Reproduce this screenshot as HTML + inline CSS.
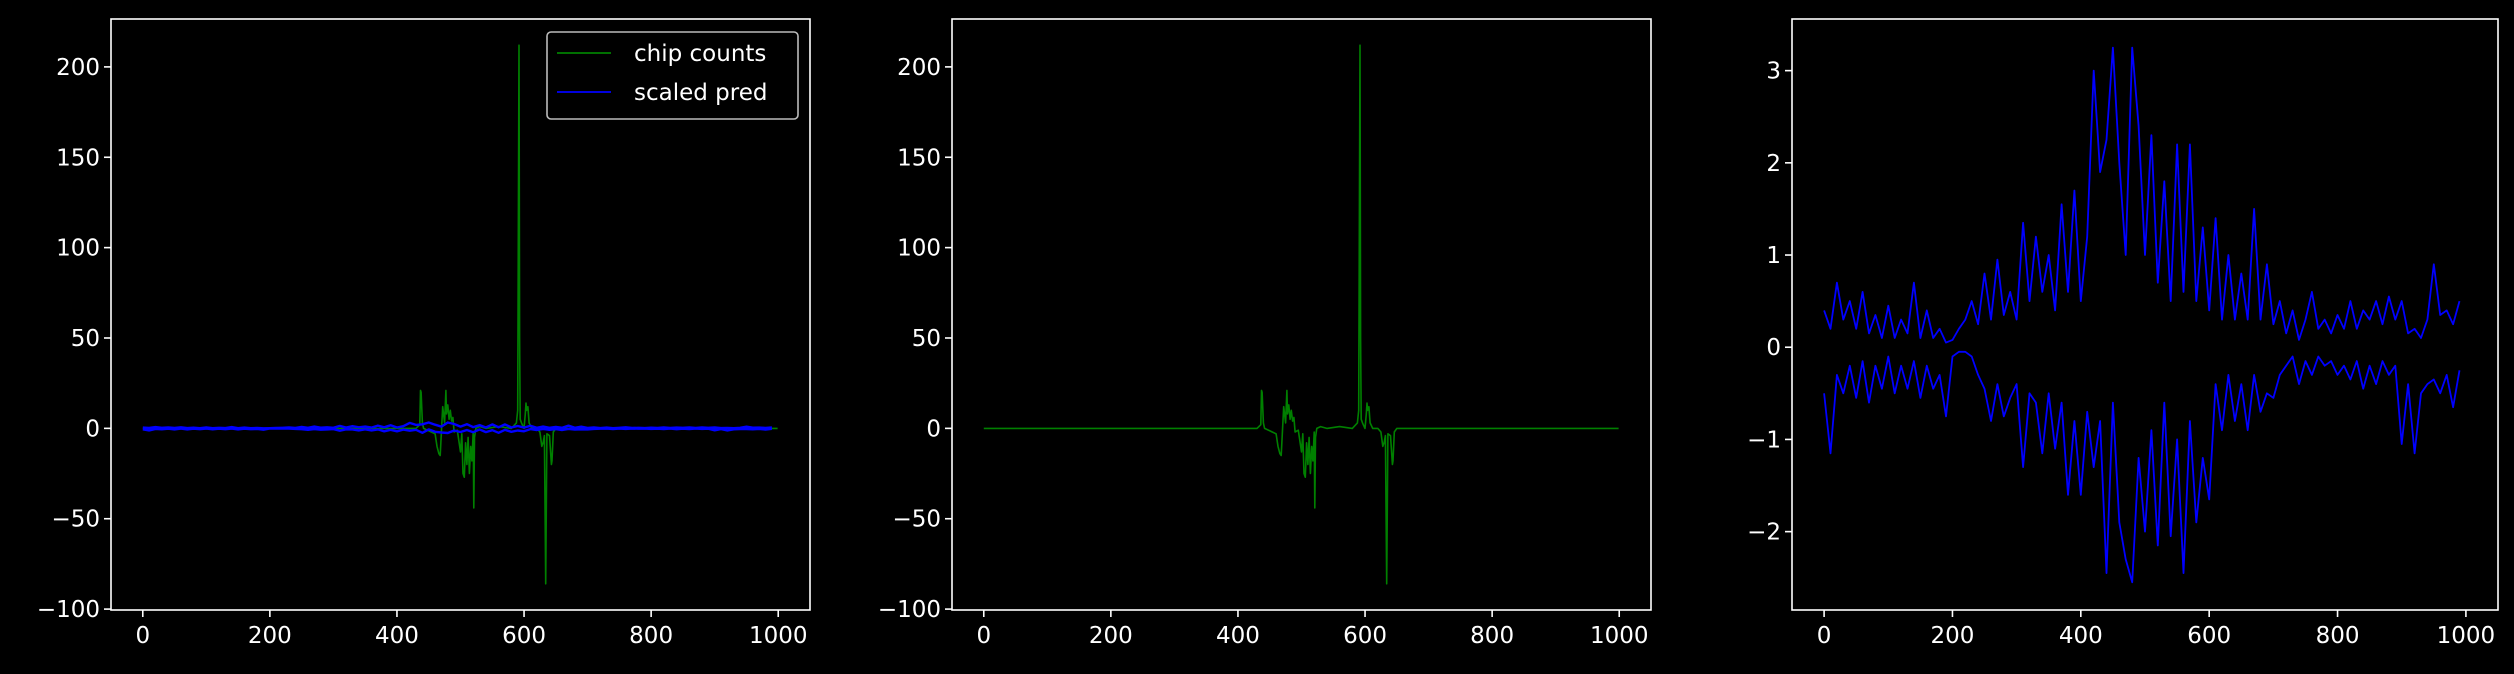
<!DOCTYPE html>
<html><head><meta charset="utf-8">
<style>
html,body{margin:0;padding:0;background:#000;}
svg{display:block;}
text{font-family:"DejaVu Sans","Liberation Sans",sans-serif;fill:#fff;font-size:23px;}
</style></head>
<body>
<svg id="chart" width="2514" height="674" viewBox="0 0 2514 674" xmlns="http://www.w3.org/2000/svg">
<rect x="0" y="0" width="2514" height="674" fill="#000"/>
</svg>
<script>
// chip counts (sparse points, zeros elsewhere)
const chipX = [0,430,436,437,438,440,442,460,463,466,468,470,472,475,477,478,480,482,484,486,488,490,495,500,502,504,506,508,510,512,514,516,518,520,521,522,524,530,540,560,580,588,590,592,593,594,596,600,602,603,604,606,608,612,620,625,628,630,632,634,636,640,643,644,646,650,660,700,999];
const chipY = [0,0,2,21,20,3,0,-3,-10,-14,-15,-2,12,3,21,8,13,5,10,4,6,-2,-1,-13,-3,-25,-27,-8,-20,-5,-25,-10,-18,-2,-44,-5,0,1,0,1,0,3,10,212,50,5,3,0,8,14,10,12,3,0,0,-2,-10,-8,-4,-86,-3,-4,-20,-18,-2,0,0,0,0];
// scaled pred (two branches, sampled every 10 steps)
const predX = [0,10,20,30,40,50,60,70,80,90,100,110,120,130,140,150,160,170,180,190,200,210,220,230,240,250,260,270,280,290,300,310,320,330,340,350,360,370,380,390,400,410,420,430,440,450,460,470,480,490,500,510,520,530,540,550,560,570,580,590,600,610,620,630,640,650,660,670,680,690,700,710,720,730,740,750,760,770,780,790,800,810,820,830,840,850,860,870,880,890,900,910,920,930,940,950,960,970,980,990];
const predUpper = [0.4,0.2,0.7,0.3,0.5,0.2,0.6,0.15,0.35,0.1,0.45,0.1,0.3,0.15,0.7,0.1,0.4,0.1,0.2,0.05,0.08,0.2,0.3,0.5,0.25,0.8,0.3,0.95,0.35,0.6,0.3,1.35,0.5,1.2,0.6,1.0,0.4,1.55,0.6,1.7,0.5,1.2,3.0,1.9,2.25,3.25,2.0,1.0,3.25,2.4,1.0,2.3,0.7,1.8,0.5,2.2,0.6,2.2,0.5,1.3,0.4,1.4,0.3,1.0,0.3,0.8,0.3,1.5,0.3,0.9,0.25,0.5,0.15,0.4,0.08,0.3,0.6,0.2,0.3,0.15,0.35,0.2,0.5,0.2,0.4,0.3,0.5,0.25,0.55,0.3,0.5,0.15,0.2,0.1,0.3,0.9,0.35,0.4,0.25,0.5];
const predLower = [-0.5,-1.15,-0.3,-0.5,-0.2,-0.55,-0.15,-0.6,-0.2,-0.45,-0.1,-0.5,-0.2,-0.45,-0.15,-0.55,-0.2,-0.45,-0.3,-0.75,-0.1,-0.05,-0.05,-0.1,-0.3,-0.45,-0.8,-0.4,-0.75,-0.55,-0.4,-1.3,-0.5,-0.6,-1.15,-0.5,-1.1,-0.6,-1.6,-0.8,-1.6,-0.7,-1.3,-0.8,-2.45,-0.6,-1.9,-2.3,-2.55,-1.2,-2.0,-0.9,-2.15,-0.6,-2.05,-1.0,-2.45,-0.8,-1.9,-1.2,-1.65,-0.4,-0.9,-0.3,-0.8,-0.4,-0.9,-0.3,-0.7,-0.5,-0.55,-0.3,-0.2,-0.1,-0.4,-0.15,-0.3,-0.1,-0.2,-0.15,-0.3,-0.2,-0.35,-0.15,-0.45,-0.2,-0.4,-0.15,-0.3,-0.2,-1.05,-0.4,-1.15,-0.5,-0.4,-0.35,-0.5,-0.3,-0.65,-0.25];
const xTicks = [0,200,400,600,800,1000];
const yTicks12 = [-100,-50,0,50,100,150,200];
const yTicks3 = [-2,-1,0,1,2,3];

const NS = "http://www.w3.org/2000/svg";
const svg = document.getElementById('chart');
function mk(tag, attrs, parent){
  const e = document.createElementNS(NS, tag);
  for (const k in attrs) e.setAttribute(k, attrs[k]);
  (parent||svg).appendChild(e); return e;
}
function panel(name, left, right, top, bottom, xmin, xmax, ymin, ymax, yticks){
  const g = mk('g', {});
  
  
  const sx = v => left + (v - xmin) / (xmax - xmin) * (right - left);
  const sy = v => bottom - (v - ymin) / (ymax - ymin) * (bottom - top);
  const frame = mk('rect', {x:left, y:top, width:right-left, height:bottom-top, fill:'none', stroke:'#fff', 'stroke-width':1.6}, g);
  
  
  xTicks.forEach(t => {
    const x = sx(t);
    mk('line', {x1:x, x2:x, y1:bottom, y2:bottom+7, stroke:'#fff', 'stroke-width':1.6}, g);
    const tx = mk('text', {x:x, y:bottom+33, 'text-anchor':'middle'}, g);
    tx.textContent = String(t);
    
    
  });
  yticks.forEach(t => {
    const y = sy(t);
    mk('line', {x1:left-7, x2:left, y1:y, y2:y, stroke:'#fff', 'stroke-width':1.6}, g);
    const tx = mk('text', {x:left-11, y:y+8, 'text-anchor':'end'}, g);
    tx.textContent = t < 0 ? '\u2212' + Math.abs(t) : String(t);
    
    
  });
  const clipId = name + '-clip';
  const cp = mk('clipPath', {id:clipId}, g);
  mk('rect', {x:left, y:top, width:right-left, height:bottom-top}, cp);
  const plot = mk('g', {'clip-path':'url(#'+clipId+')'}, g);
  return {g, plot, sx, sy};
}
function line(p, xs, ys, color, name, w){
  const d = xs.map((x,i)=>(i?'L':'M')+p.sx(x).toFixed(1)+','+p.sy(ys[i]).toFixed(1)).join('');
  const e = mk('path', {d, fill:'none', stroke:color, 'stroke-width':w||1.6, 'stroke-linejoin':'round'}, p.plot);
  
  
}
// Panel 1
const p1 = panel('panel-chip-and-pred', 111, 810, 19, 610, -50, 1050, -100.5, 226.5, yTicks12);
line(p1, chipX, chipY, '#008000', 'chip-counts-line');
line(p1, predX, predUpper, '#0000ff', 'scaled-pred-upper-line', 2.4);
line(p1, predX, predLower, '#0000ff', 'scaled-pred-lower-line', 2.4);
// legend
const lg = mk('g', {});


mk('rect', {x:547, y:32, width:251, height:87, rx:4, fill:'#000', stroke:'#bbb', 'stroke-width':1.6}, lg);
mk('line', {x1:557, x2:611, y1:53, y2:53, stroke:'#008000', 'stroke-width':1.8}, lg);
mk('line', {x1:557, x2:611, y1:92, y2:92, stroke:'#0000ff', 'stroke-width':1.8}, lg);
const l1 = mk('text', {x:634, y:61}, lg); l1.textContent = 'chip counts';


const l2 = mk('text', {x:634, y:100}, lg); l2.textContent = 'scaled pred';


// Panel 2
const p2 = panel('panel-chip-counts', 952, 1651, 19, 610, -50, 1050, -100.5, 226.5, yTicks12);
line(p2, chipX, chipY, '#008000', 'chip-counts-line');
// Panel 3
const p3 = panel('panel-scaled-pred', 1792, 2498, 19, 610, -50, 1050, -2.85, 3.56, yTicks3);
line(p3, predX, predUpper, '#0000ff', 'scaled-pred-upper-line', 1.8);
line(p3, predX, predLower, '#0000ff', 'scaled-pred-lower-line', 1.8);
</script>
</body></html>
